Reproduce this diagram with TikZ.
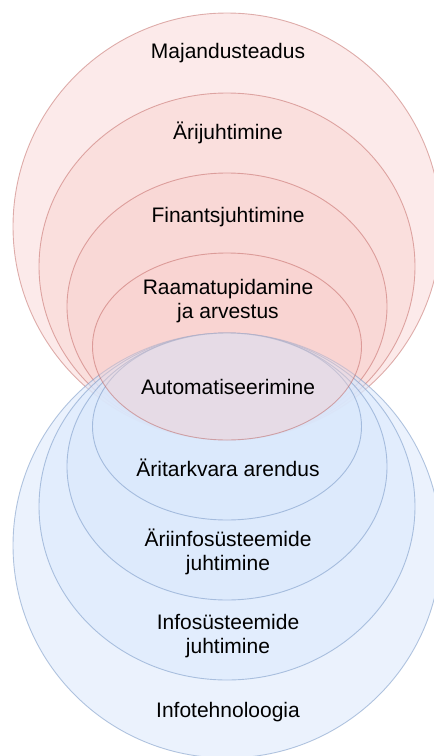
\documentclass[tikz,border=0pt]{standalone}
\usepackage{fontspec}
\setmainfont{Liberation Sans}
\definecolor{redfill}{RGB}{248,206,204}
\definecolor{redline}{RGB}{184,84,80}
\definecolor{bluefill}{RGB}{218,232,252}
\definecolor{blueline}{RGB}{108,142,191}
\begin{document}
\begin{tikzpicture}[x=1pt,y=-1pt,
	redring/.style={fill=redfill, fill opacity=0.42, draw=redline, draw opacity=0.45, line width=0.9pt},
	bluering/.style={fill=bluefill, fill opacity=0.55, draw=blueline, draw opacity=0.5, line width=0.9pt},
	field/.style={align=center, font=\fontsize{21}{24.5}\selectfont, text=black, inner sep=0pt}]
	\useasboundingbox (0,0) rectangle (434,756);
	\clip (0,0) rectangle (434,756);

	\draw[redring] (227,226.5) ellipse [x radius=214, y radius=213.5];
	\draw[redring] (227,266.5) ellipse [x radius=188, y radius=173.5];
	\draw[redring] (227,306.5) ellipse [x radius=160, y radius=133.5];

	\draw[bluering] (227,545.5) ellipse [x radius=214, y radius=212.5];
	\draw[bluering] (227,506.5) ellipse [x radius=188, y radius=173.5];
	\draw[bluering] (227,466.5) ellipse [x radius=160, y radius=133.5];
	\draw[bluering] (227,426.5) ellipse [x radius=134.5, y radius=93.5];

	\draw[redring] (227,346.5) ellipse [x radius=134.5, y radius=93.5];

	\node[field] (maj) at (228,53) {Majandusteadus};
	\node[field] (ari) at (228,133) {Ärijuhtimine};
	\node[field] (fin) at (228,217) {Finantsjuhtimine};
	\node[field] (raa) at (228,301) {Raamatupidamine\\ja arvestus};
	\node[field] (aut) at (228,387) {Automatiseerimine};
	\node[field] (tar) at (228,468) {Äritarkvara arendus};
	\node[field] (ais) at (228,552) {Äriinfosüsteemide\\juhtimine};
	\node[field] (ins) at (228,636) {Infosüsteemide\\juhtimine};
	\node[field] (ite) at (228,712) {Infotehnoloogia};
\end{tikzpicture}
\end{document}
